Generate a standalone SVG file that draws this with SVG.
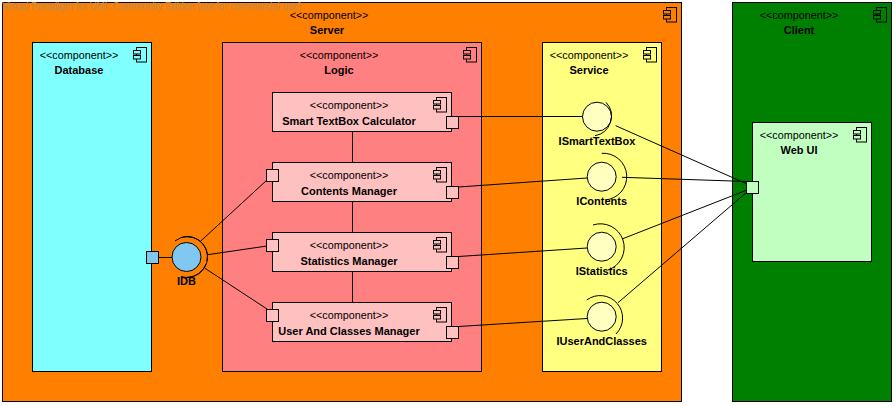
<svg xmlns="http://www.w3.org/2000/svg" width="896" height="406" viewBox="0 0 896 406">
<style>
text{font-family:"Liberation Sans",Arial,sans-serif;fill:#000}
.s{font-size:10.800px;text-anchor:middle}
.n{font-size:11px;font-weight:bold;text-anchor:middle}
.b{stroke:#000;stroke-width:1}
.c{stroke:#000;stroke-width:1;fill:none}
.p{stroke:#000;stroke-width:1}
.i{stroke:#000;stroke-width:1}
</style>
<defs>
<g id="ic" class="i"><rect x="3" y="0" width="10" height="14.500" fill="none"/><rect x="0" y="3" width="7" height="3.500"/><rect x="0" y="8" width="7" height="3.500"/></g>
</defs>
<rect width="896" height="406" fill="#fff"/>
<g id="server"><rect class="b" x="2.500" y="2.500" width="679" height="399" fill="#FF8000"/><text class="s" x="329" y="19">&lt;&lt;component&gt;&gt;</text><text class="n" x="327" y="34">Server</text><use href="#ic" x="663.500" y="7.500" fill="#FF8000"/></g>
<g id="database"><rect class="b" x="32.500" y="42.500" width="119" height="329" fill="#80FFFF"/><text class="s" x="79" y="59">&lt;&lt;component&gt;&gt;</text><text class="n" x="79" y="74">Database</text><use href="#ic" x="133.500" y="47.500" fill="#80FFFF"/></g>
<g id="logic"><rect class="b" x="222.500" y="42.500" width="259" height="329" fill="#FF8080"/><text class="s" x="339" y="59">&lt;&lt;component&gt;&gt;</text><text class="n" x="339" y="74">Logic</text><use href="#ic" x="463.500" y="47.500" fill="#FF8080"/></g>
<g id="service"><rect class="b" x="542.500" y="42.500" width="119" height="329" fill="#FFFF80"/><text class="s" x="589" y="59">&lt;&lt;component&gt;&gt;</text><text class="n" x="589" y="74">Service</text><use href="#ic" x="643.500" y="47.500" fill="#FFFF80"/></g>
<g id="client"><rect class="b" x="732.500" y="2.500" width="159" height="399" fill="#008000"/><text class="s" x="799" y="19">&lt;&lt;component&gt;&gt;</text><text class="n" x="799" y="34">Client</text><use href="#ic" x="873.500" y="7.500" fill="#008000"/></g>
<g id="webui"><rect class="b" x="752.500" y="122.500" width="119" height="139" fill="#C0FFC0"/><text class="s" x="799" y="139">&lt;&lt;component&gt;&gt;</text><text class="n" x="799" y="154">Web UI</text><use href="#ic" x="853.500" y="127.500" fill="#C0FFC0"/></g>
<g id="smart"><rect class="b" x="272.500" y="92.500" width="179" height="39" fill="#FFC0C0"/><text class="s" x="349" y="109">&lt;&lt;component&gt;&gt;</text><text class="n" x="349" y="125">Smart TextBox Calculator</text><use href="#ic" x="433.500" y="97.500" fill="#FFC0C0"/></g>
<g id="contents"><rect class="b" x="272.500" y="162.500" width="179" height="39" fill="#FFC0C0"/><text class="s" x="349" y="179">&lt;&lt;component&gt;&gt;</text><text class="n" x="349" y="195">Contents Manager</text><use href="#ic" x="433.500" y="167.500" fill="#FFC0C0"/></g>
<g id="statistics"><rect class="b" x="272.500" y="232.500" width="179" height="39" fill="#FFC0C0"/><text class="s" x="349" y="249">&lt;&lt;component&gt;&gt;</text><text class="n" x="349" y="265">Statistics Manager</text><use href="#ic" x="433.500" y="237.500" fill="#FFC0C0"/></g>
<g id="users"><rect class="b" x="272.500" y="302.500" width="179" height="39" fill="#FFC0C0"/><text class="s" x="349" y="319">&lt;&lt;component&gt;&gt;</text><text class="n" x="349" y="335">User And Classes Manager</text><use href="#ic" x="433.500" y="307.500" fill="#FFC0C0"/></g>
<g id="connectors">
<path class="c" d="M352.500 132V162M352.500 202V232M352.500 272V302"/>
<path class="c" d="M458.500 116.500H582.500M458.500 187L587 178M622 177.300L747 181.500M458.500 256.500L587 248M458.500 326.500L587 318.500M615.700 125.700L747 184M622 239L747 190M618 302.700L747 192"/>
<path class="c" d="M158.500 257.500H172.500M200 241.700L267 180M207.700 254.700L267 246M205 268.300L267 309"/>
</g>
<g id="idb"><circle class="b" cx="186.500" cy="257" r="14.500" fill="#80C8F0"/><path class="c" d="M175 241A20 20 0 0 1 207 261M181 237.500A20.500 20.500 0 0 1 207.500 255M207.500 258A20.500 20.500 0 0 1 181 276.500M206 264A20.500 20.500 0 0 1 187 277.500"/><text class="n" x="186.500" y="285">IDB</text><rect class="p" x="146.500" y="251.500" width="12" height="12" fill="#80C8F0"/></g>
<g id="ismart"><circle class="b" cx="597" cy="116.700" r="14.500" fill="#FFFFC0"/><path class="c" d="M606 102.300A20 20 0 0 1 595 135.700"/><text class="n" x="597" y="145">ISmartTextBox</text></g>
<g id="icontents"><circle class="b" cx="601.700" cy="176.700" r="14.500" fill="#FFFFC0"/><path class="c" d="M601.700 153.300A23 23 0 0 1 605 200"/><text class="n" x="601.700" y="205">IContents</text></g>
<g id="istatistics"><circle class="b" cx="601.700" cy="246.700" r="14.500" fill="#FFFFC0"/><path class="c" d="M593 225A23 23 0 0 1 608 270"/><text class="n" x="601.700" y="275">IStatistics</text></g>
<g id="iusers"><circle class="b" cx="601.700" cy="316.700" r="14.500" fill="#FFFFC0"/><path class="c" d="M586.700 300A22.500 22.500 0 0 1 616 334"/><text class="n" x="601.700" y="345">IUserAndClasses</text></g>
<g id="ports" class="p">
<rect x="446.500" y="116.500" width="12" height="12" fill="#FFC0C0"/><rect x="446.500" y="186.500" width="12" height="12" fill="#FFC0C0"/><rect x="446.500" y="256.500" width="12" height="12" fill="#FFC0C0"/><rect x="446.500" y="326.500" width="12" height="12" fill="#FFC0C0"/>
<rect x="266.500" y="169.500" width="12" height="12" fill="#FFC0C0"/><rect x="266.500" y="239.500" width="12" height="12" fill="#FFC0C0"/><rect x="266.500" y="309.500" width="12" height="12" fill="#FFC0C0"/>
<rect x="746.500" y="181.500" width="12" height="12" fill="#C0FFC0"/>
</g>
<text x="2" y="10" font-size="10" textLength="299" style="fill:#C08A50">Visual Paradigm for UML Community Edition [not for commercial use]</text>
</svg>
